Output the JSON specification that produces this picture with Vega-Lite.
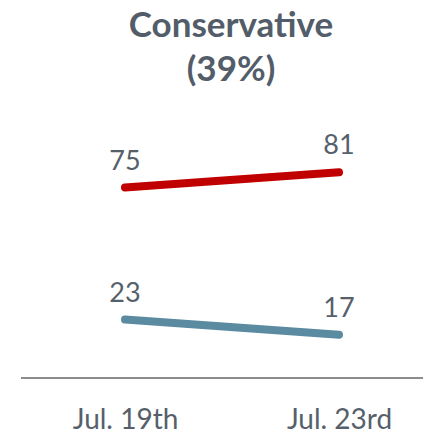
{
  "$schema": "https://vega.github.io/schema/vega-lite/v6.json",
  "autosize": "none",
  "width": 402,
  "height": 254,
  "padding": {"left": 21, "top": 124, "right": 0, "bottom": 61},
  "background": "white",
  "config": {"view": {"stroke": null}, "font": "Lato"},
  "title": {
    "text": ["Conservative", "(39%)"],
    "fontSize": 35,
    "font": "Lato",
    "fontWeight": "bold",
    "color": "#535d69",
    "anchor": "middle",
    "frame": "group",
    "dx": 9,
    "offset": 8,
    "baseline": "alphabetic",
    "lineHeight": 44
  },
  "data": {
    "values": [
      {"date": "Jul. 19th", "series": "top", "value": 75},
      {"date": "Jul. 23rd", "series": "top", "value": 81},
      {"date": "Jul. 19th", "series": "bottom", "value": 23},
      {"date": "Jul. 23rd", "series": "bottom", "value": 17}
    ]
  },
  "layer": [
    {
      "mark": {"type": "line", "strokeWidth": 8, "strokeCap": "round"},
      "encoding": {
        "x": {
          "field": "date", "type": "ordinal", "sort": null,
          "scale": {"type": "point", "range": [104, 318], "padding": 0},
          "axis": {"title": null, "domain": false, "ticks": false, "labelAngle": 0, "labelFontSize": 28, "labelColor": "#56606b", "labelFont": "Lato", "labelPadding": 50, "labelBaseline": "alphabetic"}
        },
        "y": {"field": "value", "type": "quantitative", "scale": {"domain": [0, 100]}, "axis": null},
        "color": {"field": "series", "type": "nominal", "scale": {"domain": ["top", "bottom"], "range": ["#c00000", "#5b8ba0"]}, "legend": null}
      }
    },
    {
      "mark": {"type": "text", "dy": -18, "baseline": "alphabetic", "fontSize": 27, "color": "#56606b", "font": "Lato"},
      "encoding": {
        "x": {"field": "date", "type": "ordinal", "sort": null},
        "y": {"field": "value", "type": "quantitative"},
        "text": {"field": "value", "type": "quantitative"}
      }
    },
    {
      "mark": {"type": "rule", "color": "#8c8c8c", "strokeWidth": 2},
      "encoding": {"y": {"datum": 0}}
    }
  ]
}
